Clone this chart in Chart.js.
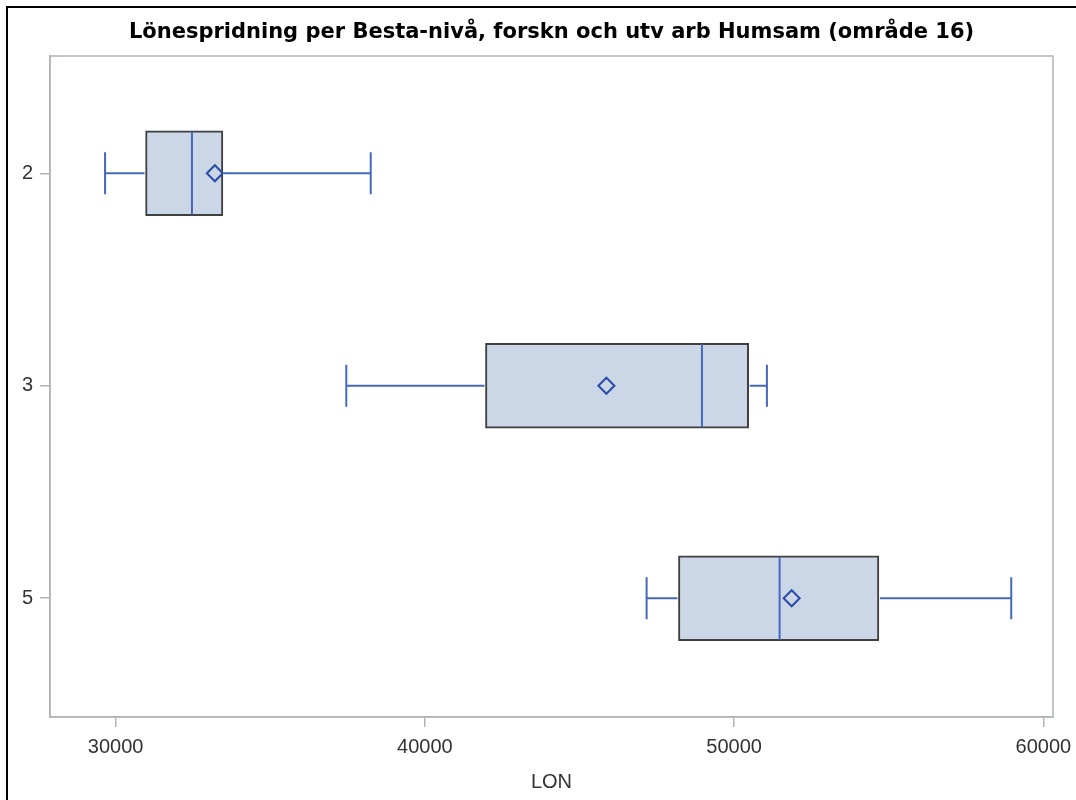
<!DOCTYPE html>
<html>
<head>
<meta charset="utf-8">
<script src="https://cdn.jsdelivr.net/npm/chart.js@4/dist/chart.umd.min.js"></script>
<style>
  html, body { margin: 0; padding: 0; background: #fff; overflow: hidden; }
  canvas { display: block; }
</style>
</head>
<body>
<canvas id="box-chart" width="1076" height="800"></canvas>
<script>
// data
var levels = ['2', '3', '5'];
var whiskerLow = [29660, 37460, 47170];
var q1 = [30970, 41960, 48200];
var median = [32470, 48960, 51470];
var q3 = [33470, 50470, 54680];
var whiskerHigh = [38250, 51060, 58960];
var mean = [33210, 45870, 51860];
var xTicks = [30000, 40000, 50000, 60000];

var boxFill = '#cbd6e6';
var boxEdge = '#404040';
var whiskerColor = '#4668bc';
var meanColor = '#2a4ca8';
var axisGrey = '#b0b4b8';

Chart.defaults.font.family = "'Liberation Sans', Arial, sans-serif";
Chart.defaults.color = '#333';

// whiskers, caps and medians, drawn right after the boxes
var whiskerPlugin = {
  id: 'whiskers',
  afterDatasetDraw: function (chart, args) {
    if (args.index !== 0) return;
    var ctx = chart.ctx;
    var xs = chart.scales.x;
    var ys = chart.scales.y;
    var half = 42.5;
    var cap = 21;
    ctx.save();
    ctx.strokeStyle = whiskerColor;
    ctx.lineWidth = 2;
    for (var i = 0; i < levels.length; i++) {
      var py = ys.getPixelForValue(i);
      var lo = xs.getPixelForValue(whiskerLow[i]);
      var a = xs.getPixelForValue(q1[i]);
      var b = xs.getPixelForValue(q3[i]);
      var hi = xs.getPixelForValue(whiskerHigh[i]);
      var md = xs.getPixelForValue(median[i]);
      ctx.beginPath();
      ctx.moveTo(lo, py); ctx.lineTo(a - 1, py);
      ctx.moveTo(b + 1, py); ctx.lineTo(hi, py);
      ctx.moveTo(lo, py - cap); ctx.lineTo(lo, py + cap);
      ctx.moveTo(hi, py - cap); ctx.lineTo(hi, py + cap);
      ctx.moveTo(md, py - half + 1); ctx.lineTo(md, py + half - 1);
      ctx.stroke();
    }
    ctx.restore();
  },
  afterDraw: function (chart) {
    var ctx = chart.ctx;
    var area = chart.chartArea;
    ctx.save();
    // grey frame round the plot
    ctx.strokeStyle = axisGrey;
    ctx.lineWidth = 1.5;
    ctx.strokeRect(area.left, area.top, area.right - area.left, area.bottom - area.top);
    // black outer frame (left and top edges visible)
    ctx.strokeStyle = '#000';
    ctx.lineWidth = 2;
    ctx.beginPath();
    ctx.moveTo(7, 800); ctx.lineTo(7, 7); ctx.lineTo(1076, 7);
    ctx.stroke();
    ctx.restore();
  }
};

var ctx = document.getElementById('box-chart').getContext('2d');

new Chart(ctx, {
  type: 'bar',
  data: {
    datasets: [{
      type: 'bar',
      label: 'box',
      order: 1,
      data: q1.map(function (v, i) { return { x: [v, q3[i]], y: i }; }),
      backgroundColor: boxFill,
      borderColor: boxEdge,
      borderWidth: 2,
      borderSkipped: false,
      barThickness: 85
    }, {
      type: 'scatter',
      label: 'mean',
      order: 0,
      data: mean.map(function (v, i) { return { x: v, y: i }; }),
      pointStyle: 'rectRot',
      pointRadius: 8,
      borderWidth: 2,
      borderColor: meanColor,
      backgroundColor: 'rgba(0,0,0,0)'
    }]
  },
  options: {
    responsive: false,
    animation: false,
    indexAxis: 'y',
    layout: { padding: { left: 0, right: 23, top: 0, bottom: 2 } },
    plugins: {
      legend: { display: false },
      tooltip: { enabled: false },
      title: {
        display: true,
        fullSize: false,
        text: 'Lönespridning per Besta-nivå, forskn och utv arb Humsam (område 16)',
        color: '#000',
        font: { family: "'DejaVu Sans', sans-serif", size: 21, weight: 'bold', lineHeight: 1.2 },
        padding: { top: 20, bottom: 10.8 }
      }
    },
    scales: {
      x: {
        type: 'linear',
        min: 27880,
        max: 60310,
        afterBuildTicks: function (s) {
          s.ticks = xTicks.map(function (v) { return { value: v }; });
        },
        afterFit: function (s) {
          s.height = 81;
          s.paddingLeft = 0;
          s.paddingRight = 0;
        },
        ticks: {
          font: { size: 20 },
          padding: 8,
          callback: function (v) { return String(v); }
        },
        grid: { drawOnChartArea: false, tickLength: 10, color: axisGrey, lineWidth: 1.5 },
        border: { display: true, color: axisGrey, width: 1.5 },
        title: {
          display: true,
          text: 'LON',
          font: { size: 20 },
          padding: { top: 4, bottom: 4 }
        }
      },
      y: {
        type: 'linear',
        reverse: true,
        offset: false,
        min: -0.552,
        max: 2.559,
        afterBuildTicks: function (s) {
          s.ticks = levels.map(function (l, i) { return { value: i }; });
        },
        afterFit: function (s) {
          s.width = 50;
          s.paddingTop = 0;
          s.paddingBottom = 0;
        },
        ticks: {
          font: { size: 20 },
          padding: 7,
          callback: function (v) { return levels[v]; }
        },
        grid: { offset: false, drawOnChartArea: false, tickLength: 10, color: axisGrey, lineWidth: 1.5 },
        border: { display: true, color: axisGrey, width: 1.5 }
      }
    }
  },
  plugins: [whiskerPlugin]
});
</script>
</body>
</html>
